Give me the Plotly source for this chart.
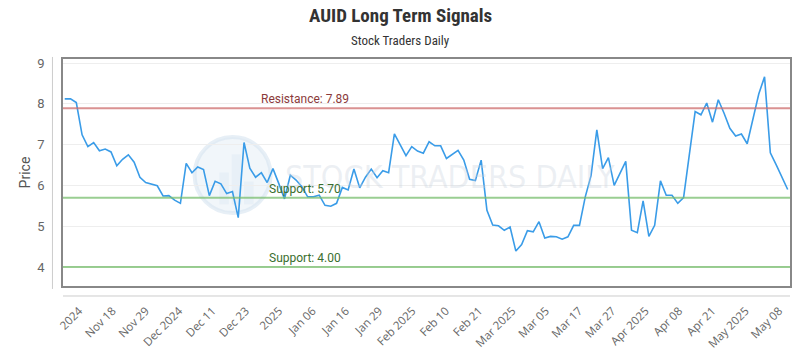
import numpy as np
import plotly.graph_objects as go

title = "AUID Long Term Signals"
subtitle = "Stock Traders Daily"

prices = [
    8.12, 8.12, 8.03, 7.24, 6.95, 7.05, 6.85, 6.89, 6.82, 6.48,
    6.64, 6.75, 6.57, 6.20, 6.07, 6.03, 5.99, 5.74, 5.75, 5.64,
    5.56, 6.54, 6.31, 6.45, 6.39, 5.75, 6.10, 6.04, 5.80, 5.85,
    5.21, 7.05, 6.42, 6.20, 6.31, 6.07, 6.41, 6.05, 5.67, 6.25,
    6.13, 5.97, 5.72, 5.72, 5.76, 5.51, 5.49, 5.56, 5.95, 5.89,
    6.40, 5.94, 6.20, 6.40, 6.19, 6.36, 6.31, 7.26, 7.01, 6.73,
    6.95, 6.84, 6.79, 7.07, 6.97, 6.97, 6.66, 6.76, 6.86, 6.62,
    6.15, 6.12, 6.62, 5.39, 5.03, 5.01, 4.90, 4.98, 4.39, 4.55,
    4.89, 4.86, 5.11, 4.71, 4.75, 4.74, 4.68, 4.74, 5.02, 5.02,
    5.72, 6.24, 7.36, 6.41, 6.68, 6.00, 6.30, 6.59, 4.90, 4.84,
    5.62, 4.75, 5.02, 6.11, 5.76, 5.76, 5.56, 5.70, 6.76, 7.81,
    7.73, 8.02, 7.55, 8.10, 7.77, 7.40, 7.21, 7.26, 7.02, 7.61,
    8.24, 8.66, 6.80, 6.51, 6.21, 5.90,
]

tick_labels = [
    "2024", "Nov 18", "Nov 29", "Dec 2024", "Dec 11", "Dec 23", "2025",
    "Jan 06", "Jan 16", "Jan 29", "Feb 2025", "Feb 10", "Feb 21",
    "Mar 2025", "Mar 05", "Mar 17", "Mar 27", "Apr 2025", "Apr 08",
    "Apr 21", "May 2025", "May 08",
]

resistance = 7.89
supports = [5.70, 4.00]

x = list(range(len(prices)))
tick_vals = list(np.linspace(2.5, len(prices) - 2.5, len(tick_labels)))

fig = go.Figure()
fig.add_trace(go.Scatter(
    x=x, y=prices, mode="lines",
    line=dict(color="#3a9ce8", width=1.6),
    hoverinfo="skip", showlegend=False,
))

shapes = []
shapes.append(dict(type="line", xref="paper", x0=0, x1=1, yref="y",
                   y0=resistance, y1=resistance,
                   line=dict(color="rgba(205,110,110,0.75)", width=2)))
for s in supports:
    shapes.append(dict(type="line", xref="paper", x0=0, x1=1, yref="y",
                       y0=s, y1=s,
                       line=dict(color="rgba(120,190,110,0.75)", width=2)))
shapes.append(dict(type="line", xref="paper", yref="paper",
                   x0=-0.0145, x1=-0.0145, y0=-0.013, y1=1.009,
                   line=dict(color="#cccccc", width=1)))
shapes.append(dict(type="line", xref="paper", yref="paper",
                   x0=0, x1=1, y0=-0.044, y1=-0.044,
                   line=dict(color="#cccccc", width=1)))
shapes.append(dict(type="circle", xref="paper", yref="paper",
                   x0=0.181, x1=0.2856, y0=0.3216, y1=0.656,
                   fillcolor="rgba(215,228,240,0.35)",
                   line=dict(color="rgba(215,228,240,0.6)", width=4),
                   layer="below"))
# faint bars inside the watermark logo
for bx0, bx1, by1 in [(0.215, 0.228, 0.50), (0.232, 0.245, 0.58), (0.249, 0.262, 0.46)]:
    shapes.append(dict(type="rect", xref="paper", yref="paper",
                       x0=bx0, x1=bx1, y0=0.36, y1=by1,
                       fillcolor="rgba(215,228,240,0.35)", line=dict(width=0),
                       layer="below"))

cond = "Roboto Condensed, Liberation Sans Narrow, DejaVu Sans Condensed, Roboto, sans-serif"
page_center = (400 - 63) / 727
annotations = [
    dict(text="<b>" + title + "</b>", xref="paper", yref="paper", x=page_center, y=1.0, yshift=44,
         xanchor="center", yanchor="middle", showarrow=False,
         font=dict(family=cond, size=19, color="#333333")),
    dict(text=subtitle, xref="paper", yref="paper", x=page_center, y=1.0, yshift=19,
         xanchor="center", yanchor="middle", showarrow=False,
         font=dict(family=cond, size=13, color="#333333")),
    dict(text="STOCK TRADERS DAILY", xref="paper", yref="paper", x=0.532, y=0.48,
         xanchor="center", yanchor="middle", showarrow=False,
         font=dict(family="Liberation Sans Narrow, DejaVu Sans Condensed, Roboto, sans-serif",
                   size=32, color="rgba(200,210,222,0.35)")),
    dict(text="Resistance: 7.89", xref="paper", yref="y", x=0.270, y=resistance,
         xanchor="left", yanchor="bottom", showarrow=False,
         font=dict(family="Roboto, sans-serif", size=12, color="#8b3a3a")),
    dict(text="Support: 5.70", xref="paper", yref="y", x=0.281, y=supports[0],
         xanchor="left", yanchor="bottom", showarrow=False,
         font=dict(family="Roboto, sans-serif", size=12, color="#3a6e2e")),
    dict(text="Support: 4.00", xref="paper", yref="y", x=0.281, y=supports[1],
         xanchor="left", yanchor="bottom", showarrow=False,
         font=dict(family="Roboto, sans-serif", size=12, color="#3a6e2e")),
]

fig.update_layout(
    width=800, height=350,
    margin=dict(l=63, r=10, t=59, b=64),
    paper_bgcolor="white", plot_bgcolor="white",
    shapes=shapes, annotations=annotations,
    xaxis=dict(
        range=[-0.3, len(prices) - 1 + 0.4], automargin=False,
        tickmode="array", tickvals=tick_vals, ticktext=tick_labels,
        tickangle=-45, ticks="outside", ticklen=12, tickcolor="rgba(0,0,0,0)",
        tickfont=dict(family="Open Sans, sans-serif", size=11.5, color="#666666"),
        showgrid=False, zeroline=False,
        showline=True, mirror=True, linecolor="#888888", linewidth=1.5,
    ),
    yaxis=dict(
        range=[3.534, 9.098], automargin=False,
        tickmode="array", tickvals=[4, 5, 6, 7, 8, 9],
        ticks="outside", ticklen=14, tickcolor="rgba(0,0,0,0)",
        tickfont=dict(family="Roboto, sans-serif", size=13, color="#666666"),
        title=dict(text="Price", font=dict(family="Roboto, sans-serif", size=14, color="#555555"),
                   standoff=3),
        showgrid=True, gridcolor="#eeeeee", gridwidth=1, zeroline=False,
        showline=True, mirror=True, linecolor="#888888", linewidth=1.5,
    ),
)

fig.write_html("out.html")
